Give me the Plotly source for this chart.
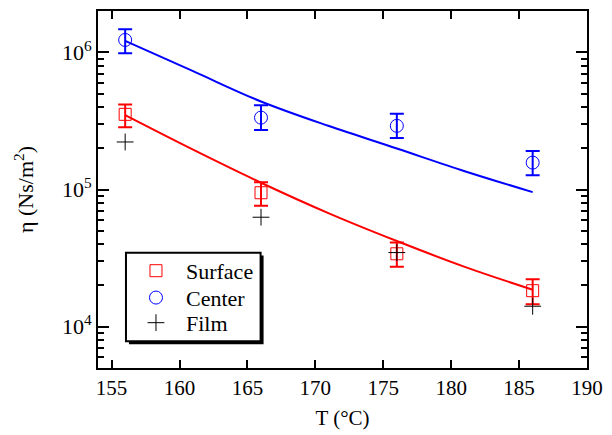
import plotly.graph_objects as go

# ---- data ----
T = [156, 166, 176, 186]

surface = [3.53e5, 9.47e4, 3.40e4, 1.83e4]
surface_hi = [4.16e5, 1.13e5, 4.11e4, 2.22e4]
surface_lo = [2.84e5, 7.60e4, 2.73e4, 1.46e4]

center = [1.23e6, 3.34e5, 2.91e5, 1.57e5]
center_hi = [1.47e6, 4.11e5, 3.57e5, 1.91e5]
center_lo = [9.84e5, 2.72e5, 2.37e5, 1.27e5]

film = [2.22e5, 6.28e4, 3.47e4, 1.41e4]

T_fit = [156, 161, 166, 171, 176, 181, 186]
center_fit = [1.21e6, 7.28e5, 4.38e5, 2.90e5, 1.99e5, 1.36e5, 9.57e4]
surface_fit = [3.48e5, 1.95e5, 1.12e5, 6.70e4, 4.21e4, 2.73e4, 1.86e4]

x_ticks = [155, 160, 165, 170, 175, 180, 185, 190]
y_ticks = [1e4, 1e5, 1e6]
y_ticktext = ["10<sup>4</sup>", "10<sup>5</sup>", "10<sup>6</sup>"]

RED = "#ff0000"
BLUE = "#0000ff"
FONT = "Liberation Serif"

def err(y, hi, lo, color):
    return dict(type="data", symmetric=False,
                array=[h - v for h, v in zip(hi, y)],
                arrayminus=[v - l for v, l in zip(y, lo)],
                color=color, thickness=2, width=7)

fig = go.Figure()

fig.add_trace(go.Scatter(x=T_fit, y=center_fit, mode="lines", line=dict(color=BLUE, width=2, shape="spline"),
                         showlegend=False, hoverinfo="skip"))
fig.add_trace(go.Scatter(x=T_fit, y=surface_fit, mode="lines", line=dict(color=RED, width=2, shape="spline"),
                         showlegend=False, hoverinfo="skip"))

fig.add_trace(go.Scatter(x=T, y=surface, mode="markers", name="Surface", legend="legend",
                         marker=dict(symbol="square-open", size=12, color=RED, line=dict(width=1, color=RED)),
                         error_y=err(surface, surface_hi, surface_lo, RED)))
fig.add_trace(go.Scatter(x=T, y=center, mode="markers", name="Center", legend="legend2",
                         marker=dict(symbol="circle-open", size=13, color=BLUE, line=dict(width=1, color=BLUE)),
                         error_y=err(center, center_hi, center_lo, BLUE)))
fig.add_trace(go.Scatter(x=T, y=film, mode="markers", name="Film", legend="legend3",
                         marker=dict(symbol="cross-thin-open", size=12, color="black", line=dict(width=1, color="black"))))

minor_vals = [m * 10 ** e for e in (3, 4, 5, 6) for m in range(2, 10) if 5e3 <= m * 10 ** e <= 2e6]

def leg(y):
    return dict(x=0.0572, y=y, xanchor="left", yanchor="middle",
                bgcolor="rgba(0,0,0,0)", borderwidth=0, itemwidth=50,
                font=dict(family=FONT, size=22, color="black"))

fig.update_layout(
    width=612, height=435,
    margin=dict(l=98, r=17, t=9, b=62),
    paper_bgcolor="white", plot_bgcolor="white",
    font=dict(family=FONT, size=21, color="black"),
    showlegend=True,
    legend=leg(0.272),
    legend2=leg(0.1967),
    legend3=leg(0.1264),
    xaxis=dict(range=[154, 190], tickvals=x_ticks, ticks="inside", ticklen=8, tickwidth=2,
               tickcolor="black", showline=True, linecolor="black", linewidth=2, mirror="allticks",
               showgrid=False, zeroline=False, tickfont=dict(family=FONT, size=21),
               title=dict(text="T (°C)", font=dict(family=FONT, size=21), standoff=11)),
    yaxis=dict(type="log", range=[3.699, 6.301], tickvals=y_ticks, ticktext=y_ticktext,
               ticks="inside", ticklen=11, tickwidth=2, tickcolor="black",
               minor=dict(tickvals=minor_vals, ticks="inside", ticklen=6, tickwidth=2, tickcolor="black"),
               showline=True, linecolor="black", linewidth=2, mirror="allticks",
               showgrid=False, zeroline=False, tickfont=dict(family=FONT, size=22),
               title=dict(text="η (Ns/m<sup>2</sup>)", font=dict(family=FONT, size=22), standoff=22)),
    shapes=[
        dict(type="rect", xref="paper", yref="paper", x0=0.0633, x1=0.3386, y0=0.0668, y1=0.315,
             fillcolor="black", line=dict(width=0), layer="above"),
        dict(type="rect", xref="paper", yref="paper", x0=0.0572, x1=0.3325, y0=0.075, y1=0.3231,
             fillcolor="white", line=dict(color="black", width=2), layer="above"),
    ],
)

fig.write_html("out.html", config={"displayModeBar": False},
               post_script="document.body.style.margin='0';")
